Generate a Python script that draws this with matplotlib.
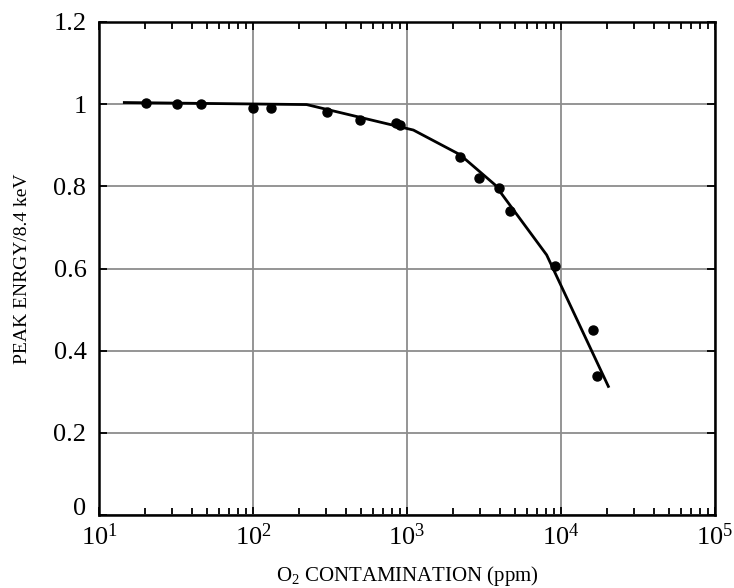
import matplotlib
matplotlib.use('Agg')
import matplotlib.pyplot as plt
import numpy as np

# measured points (ppm, normalised peak energy)
o2_ppm = [20.2, 32.2, 46.1, 100, 130, 301, 498, 849, 901, 2210, 2940, 3970, 4670, 9100, 16200, 17200]
peak_energy = [1.002, 1.0, 1.0, 0.99, 0.99, 0.98, 0.962, 0.955, 0.950, 0.872, 0.821, 0.795, 0.741, 0.607, 0.450, 0.338]

# hand-drawn trend line
fit_ppm = [14.6, 223, 1100, 2210, 3720, 8070, 20300]
fit_energy = [1.004, 0.999, 0.937, 0.877, 0.804, 0.633, 0.313]

x_ticks = [10, 100, 1000, 10000, 100000]
x_ticklabels = [r'$\mathregular{10^{1}}$', r'$\mathregular{10^{2}}$', r'$\mathregular{10^{3}}$',
                r'$\mathregular{10^{4}}$', r'$\mathregular{10^{5}}$']
y_ticks = [0, 0.2, 0.4, 0.6, 0.8, 1.0, 1.2]
y_ticklabels = ['0', '0.2', '0.4', '0.6', '0.8', '1', '1.2']

plt.rcParams['font.family'] = ['Liberation Serif', 'DejaVu Serif']
plt.rcParams['mathtext.fontset'] = 'custom'
plt.rcParams['mathtext.rm'] = 'Liberation Serif'

fig = plt.figure(figsize=(7.34, 5.88), dpi=100)
ax = fig.add_axes([99 / 734, (588 - 515) / 588, (715 - 99) / 734, (515 - 22) / 588])

ax.plot(fit_ppm, fit_energy, color='black', lw=2.0, zorder=3)
ax.plot(o2_ppm, peak_energy, 'o', color='black', ms=6.5, zorder=4)

ax.set_xscale('log')
ax.set_xlim(10, 1e5)
ax.set_ylim(0, 1.2)
ax.set_xticks(x_ticks)
ax.set_xticklabels(x_ticklabels, fontsize=19)
ax.set_yticks(y_ticks)
ax.set_yticklabels(y_ticklabels, fontsize=19)
# sit the "0" on its baseline so it clears the 10^1 label
ax.get_yticklabels()[0].set_verticalalignment('baseline')

ax.grid(True, which='major', color='#8c8c8c', lw=1.3)
ax.tick_params(which='both', direction='in', top=True, right=True, width=1.3)
ax.tick_params(axis='x', which='major', length=6, pad=6)
ax.tick_params(axis='y', which='major', length=6, pad=9)
ax.tick_params(which='minor', length=5)
for s in ax.spines.values():
    s.set_linewidth(1.8)

ax.set_xlabel(r'$\mathregular{O_2}$ CONTAMINATION (ppm)', fontsize=15, labelpad=10)
ax.set_ylabel('PEAK ENRGY/8.4 keV', fontsize=14, labelpad=16)

fig.savefig('out.png', dpi=100)
